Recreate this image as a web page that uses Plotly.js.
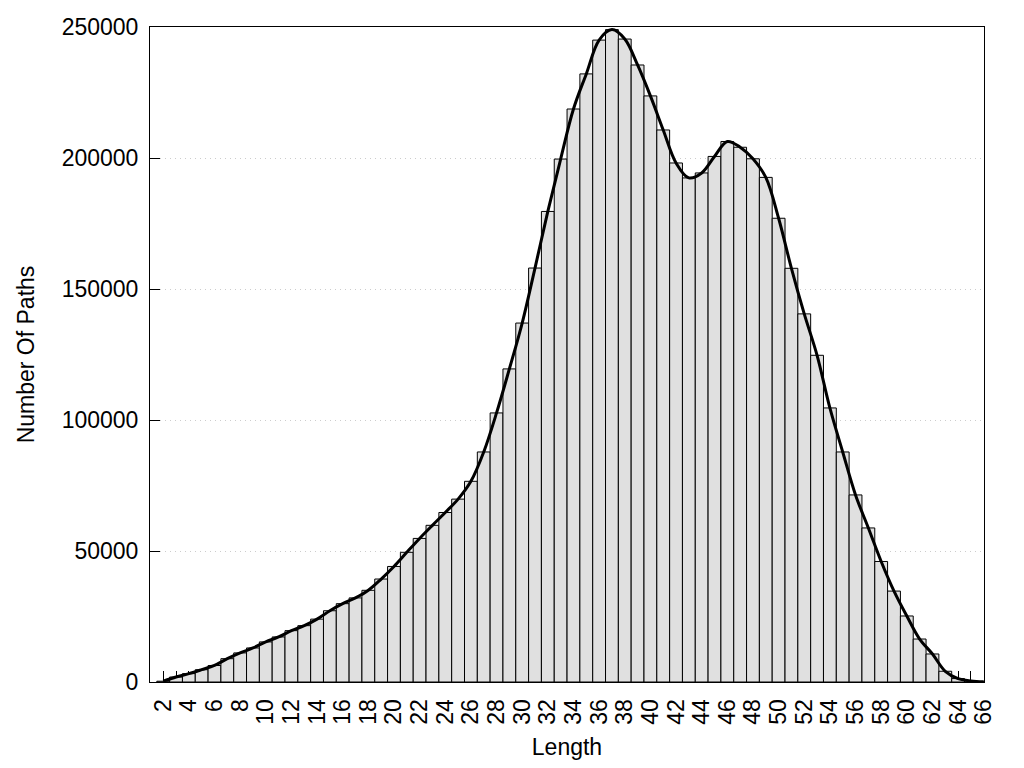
<!DOCTYPE html>
<html>
<head>
<meta charset="utf-8">
<script src="https://cdn.plot.ly/plotly-3.0.1.min.js"></script>
<style>html,body{margin:0;padding:0;background:#fff;}#chart{width:1024px;height:768px;}</style>
</head>
<body>
<div id="chart"></div>
<script>
// Path length categories
var lengths = [2,3,4,5,6,7,8,9,10,11,12,13,14,15,16,17,18,19,20,21,22,23,24,25,26,27,28,29,30,31,32,33,34,
  35,36,37,38,39,40,41,42,43,44,45,46,47,48,49,50,51,52,53,54,55,56,57,58,59,60,61,62,63,64,65,66];
// Number of paths per length
var pathCounts = [300,1900,3200,4700,6300,8900,11100,13000,15300,17200,19600,21500,24000,27200,29900,32100,35000,39300,
  44100,49500,54800,59800,64700,69800,76600,87800,102700,119500,137000,158000,179600,199600,218700,
  232100,245000,249000,245400,235500,223700,210700,198100,192400,194300,200600,206300,204100,199700,
  192600,177000,157900,140500,124700,104600,87800,71400,58800,46000,34700,25200,16400,10700,4100,1300,400,100];
// x tick labels (every integer gets a tick, even ones are labelled)
var xTickLabels = lengths.map(function(v){ return (v % 2 === 0) ? String(v) : ''; });
var yTickValues = [0,50000,100000,150000,200000,250000];

var fontFam = 'Liberation Sans, Arial, sans-serif';

var bars = {
  type: 'bar',
  x: lengths,
  y: pathCounts,
  width: 1,
  marker: {color: '#e0e0e0', line: {color: '#000', width: 1}},
  hoverinfo: 'x+y',
  showlegend: false
};
var curve = {
  type: 'scatter',
  mode: 'lines',
  x: lengths,
  y: pathCounts,
  line: {color: '#000', width: 3, shape: 'spline', smoothing: 1},
  showlegend: false
};

var layout = {
  width: 1024, height: 768,
  margin: {l: 150, r: 40, t: 27, b: 86},
  paper_bgcolor: '#fff', plot_bgcolor: '#fff',
  bargap: 0,
  font: {family: fontFam, size: 23, color: '#000'},
  xaxis: {
    range: [0.97, 66.02],
    tickmode: 'array', tickvals: lengths, ticktext: xTickLabels,
    ticks: 'inside', ticklen: 11, tickcolor: '#000', tickwidth: 1,
    tickangle: -90, ticklabelstandoff: 7,
    tickfont: {family: fontFam, size: 23, color: '#000'},
    showline: true, mirror: true, linecolor: '#000', linewidth: 1,
    showgrid: false, zeroline: false,
    layer: 'below traces',
    title: {text: 'Length', font: {family: fontFam, size: 23, color: '#000'}, standoff: 15}
  },
  yaxis: {
    range: [0, 250000],
    tickmode: 'array', tickvals: yTickValues,
    tickformat: 'd',
    ticks: 'inside', ticklen: 10, tickcolor: '#000', tickwidth: 1,
    ticklabelstandoff: 6,
    tickfont: {family: fontFam, size: 23, color: '#000'},
    showline: true, mirror: true, linecolor: '#000', linewidth: 1,
    showgrid: true, gridcolor: '#cccccc', griddash: '1px,4px', gridwidth: 1,
    zeroline: false,
    layer: 'below traces',
    title: {text: 'Number Of Paths', font: {family: fontFam, size: 23, color: '#000'}, standoff: 20}
  }
};

Plotly.newPlot('chart', [bars, curve], layout, {staticPlot: true, displayModeBar: false});
</script>
</body>
</html>
